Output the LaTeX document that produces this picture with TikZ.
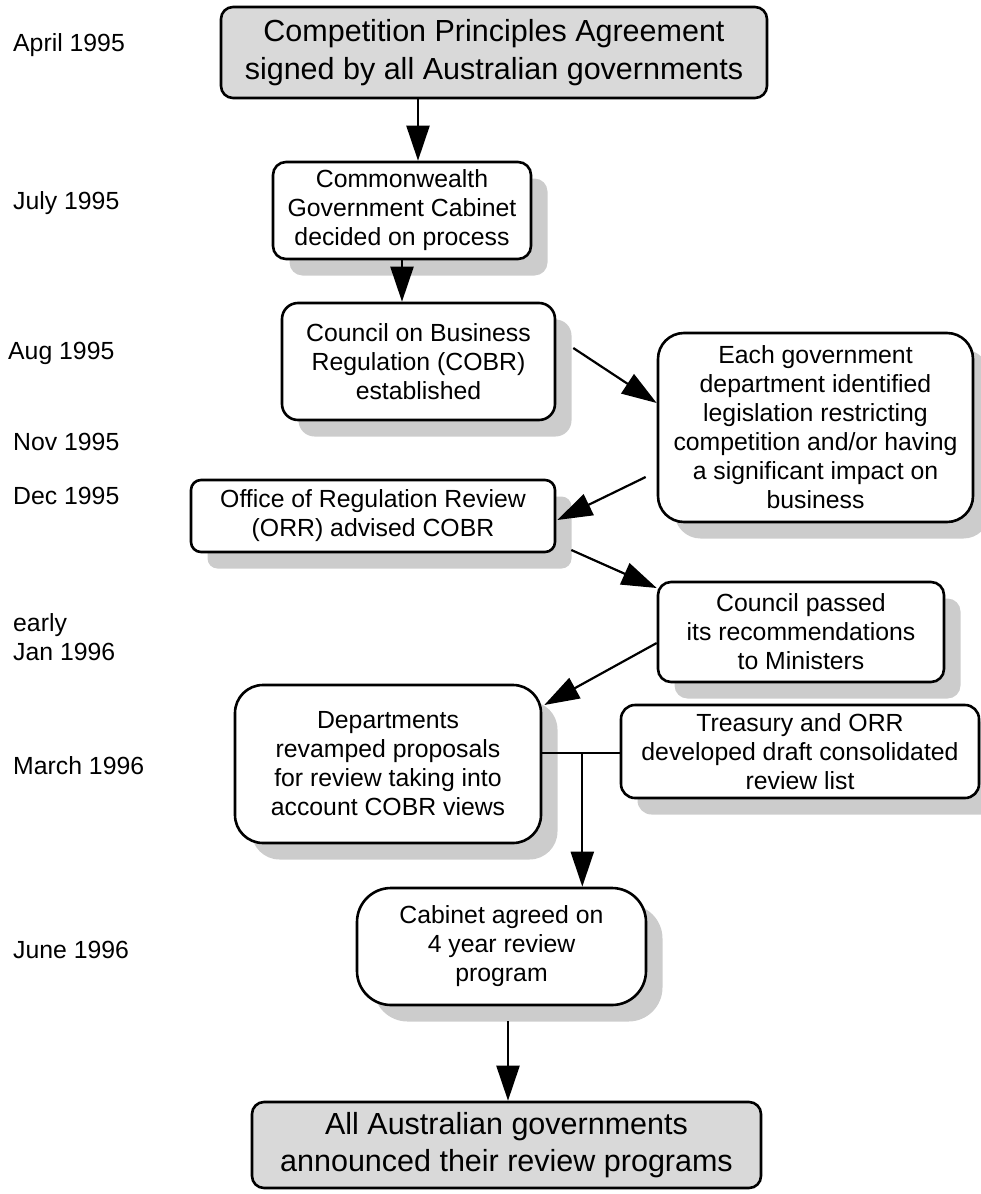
\documentclass[tikz,border=0pt]{standalone}
\usepackage{fontspec}
\setmainfont{Liberation Sans}
\usetikzlibrary{arrows.meta,shadows,calc}
\definecolor{shadowgray}{gray}{0.80}
\definecolor{boxgray}{gray}{0.85}
\begin{document}
\begin{tikzpicture}[x=1pt,y=-1pt,
  box/.style={draw=black, line width=2.6pt, fill=white, align=center,
    font=\fontsize{24.8}{29}\selectfont, inner sep=0pt,
    drop shadow={shadow xshift=16.5pt, shadow yshift=-16.5pt, fill=shadowgray, opacity=1, draw=none}},
  bigbox/.style={draw=black, line width=2.6pt, fill=boxgray, align=center,
    font=\fontsize{30.5}{37.5}\selectfont, inner sep=0pt, rounded corners=12pt},
  datelbl/.style={anchor=west, font=\fontsize{24.8}{29}\selectfont, inner sep=0pt, align=left},
  arr/.style={line width=2.2pt, -{Triangle[length=35pt,width=23pt]}},
  conn/.style={line width=2.2pt}
]
\useasboundingbox (0,0) rectangle (981,1194);

% date labels
\node[datelbl] (d1) at (13,45) {April 1995};
\node[datelbl] (d2) at (13,203) {July 1995};
\node[datelbl] (d3) at (8,353) {Aug 1995};
\node[datelbl] (d4) at (13,442) {Nov 1995};
\node[datelbl] (d5) at (13,496) {Dec 1995};
\node[datelbl] (d6) at (13,637.5) {early\\Jan 1996};
\node[datelbl] (d7) at (13,766) {March 1996};
\node[datelbl] (d8) at (13,950) {June 1996};

% boxes
\node[bigbox, minimum width=546pt, minimum height=91pt] (top) at (494,52.5)
  {Competition Principles Agreement\\signed by all Australian governments};
\node[box, rounded corners=13pt, minimum width=258pt, minimum height=97pt] (comm) at (402,210.5)
  {Commonwealth\\Government Cabinet\\decided on process};
\node[box, rounded corners=16pt, minimum width=273pt, minimum height=117pt] (council) at (418.5,361.5)
  {Council on Business\\Regulation (COBR)\\established};
\node[box, rounded corners=26pt, minimum width=315pt, minimum height=189pt] (each) at (815.5,427.5)
  {Each government\\department identified\\legislation restricting\\competition and/or having\\a significant impact on\\business};
\node[box, rounded corners=10pt, minimum width=364pt, minimum height=72pt] (office) at (373,516)
  {Office of Regulation Review\\(ORR) advised COBR};
\node[box, rounded corners=13pt, minimum width=286pt, minimum height=100pt] (passed) at (801,632)
  {Council passed\\its recommendations\\to Ministers};
\node[box, rounded corners=28pt, minimum width=306pt, minimum height=158pt] (depts) at (388,764)
  {Departments\\revamped proposals\\for review taking into\\account COBR views};
\node[box, rounded corners=14pt, minimum width=358pt, minimum height=93pt] (treas) at (800,751.5)
  {Treasury and ORR\\developed draft consolidated\\review list\hspace*{0pt}};
\node[box, rounded corners=34pt, minimum width=289pt, minimum height=117pt] (cab) at (501.5,946.5)
  {Cabinet agreed on\\4 year review\\program};
\node[bigbox, minimum width=509pt, minimum height=86pt] (final) at (506.5,1145)
  {All Australian governments\\announced their review programs};

% connectors
\draw[arr] ([xshift=-76pt]top.south) -- ([xshift=-76pt]top.south |- comm.north);
\draw[arr] (comm.south) -- (comm.south |- council.north);
\coordinate (s3) at ($(council.east)+(17,-13.5)$);
\draw[arr] (s3) -- ($(each.west)+(0,-24.5)$);
\coordinate (s4) at ($(each.west)+(-11,49.5)$);
\draw[arr] (s4) -- ($(office.east)+(1,4)$);
\coordinate (s5) at ($(office.east)+(15,34)$);
\draw[arr] (s5) -- ($(passed.west)+(0,-44)$);
\draw[arr] ($(passed.west)+(0,11)$) -- ($(depts.east)+(2,-59)$);
\coordinate (j) at ($(depts.east)+(40,-11)$);
\draw[conn] (depts.east |- j) -- (treas.west |- j);
\draw[arr] (j) -- (j |- cab.north);
\coordinate (s8) at ($(cab.south)+(6.5,15)$);
\draw[arr] (s8) -- (s8 |- final.north);
\end{tikzpicture}
\end{document}
